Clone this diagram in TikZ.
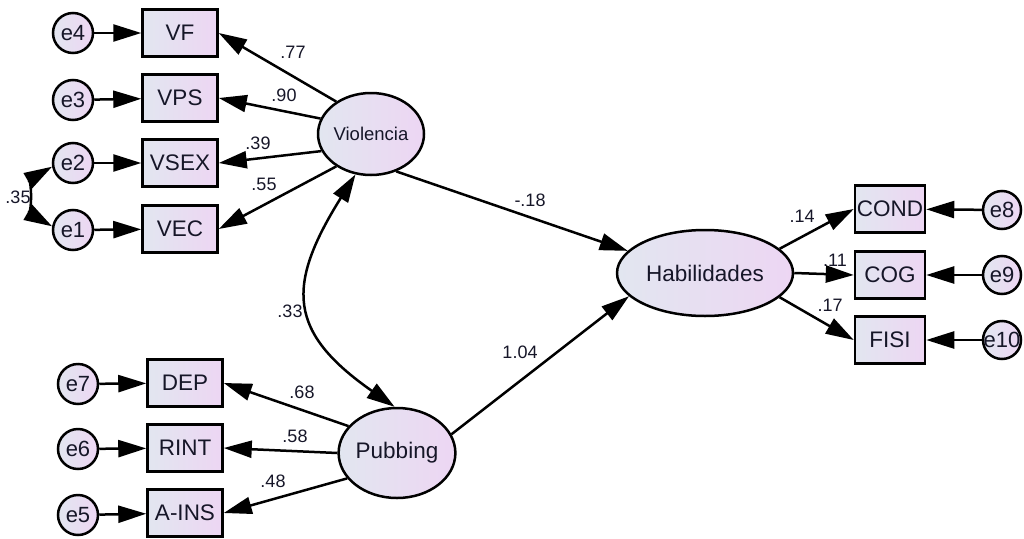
\documentclass[tikz,border=0pt]{standalone}
\usepackage{fontspec}
\setmainfont{Liberation Sans}
\usetikzlibrary{shapes.geometric,arrows.meta}

\definecolor{fondoa}{RGB}{226,230,240}
\definecolor{fondob}{RGB}{237,214,243}
\definecolor{tinta}{RGB}{22,22,40}

\begin{document}
\begin{tikzpicture}[x=1pt,y=1pt,
    obs/.style={draw,line width=2.5pt,left color=fondoa,right color=fondob,minimum width=75pt,minimum height=47pt,inner sep=0pt,font=\fontsize{22.5}{25}\selectfont,text=tinta},
    lat/.style={draw,ellipse,line width=2.5pt,left color=fondoa,right color=fondob,inner sep=0pt,font=\fontsize{22.5}{25}\selectfont,text=tinta},
    err/.style={draw,circle,line width=2.5pt,left color=fondoa,right color=fondob,minimum size=40pt,inner sep=0pt,font=\fontsize{22}{25}\selectfont,text=tinta},
    coef/.style={font=\fontsize{18}{20}\selectfont,text=tinta,inner sep=0pt},
    efecto/.style={line width=2.5pt,-{Triangle[length=28pt,width=17pt]}},
    cov/.style={line width=2.5pt,{Triangle[length=28pt,width=17pt]}-{Triangle[length=28pt,width=17pt]}}]
    \useasboundingbox (0,0) rectangle (1024,-538);

    % Violencia
    \node[err] (e4) at (73,-33) {e4};
    \node[err] (e3) at (73,-100) {e3};
    \node[err] (e2) at (73,-163) {e2};
    \node[err] (e1) at (73,-230) {e1};
    \node[obs] (vf) at (180,-33) {VF};
    \node[obs] (vps) at (180,-98) {VPS};
    \node[obs] (vsex) at (180,-163) {VSEX};
    \node[obs] (vec) at (180,-229) {VEC};
    \node[lat,minimum width=106pt,minimum height=82pt,font=\fontsize{18.5}{20}\selectfont] (viol) at (371,-134) {Violencia};

    % Pubbing
    \node[err] (e7) at (78,-384) {e7};
    \node[err] (e6) at (78,-449) {e6};
    \node[err] (e5) at (78,-515) {e5};
    \node[obs] (dep) at (185,-383) {DEP};
    \node[obs] (rint) at (185,-448) {RINT};
    \node[obs] (ains) at (185,-513) {A-INS};
    \node[lat,minimum width=110pt,minimum height=90pt] (pub) at (397,-453) {Pubbing};

    % Habilidades
    \node[lat,minimum width=176pt,minimum height=86pt] (hab) at (705,-273) {Habilidades};
    \node[obs,minimum width=70pt] (cond) at (890,-209) {\makebox[0pt]{COND}};
    \node[obs,minimum width=70pt] (cog) at (890,-275) {COG};
    \node[obs,minimum width=70pt] (fisi) at (890,-340) {FISI};
    \node[err,minimum size=38pt] (e8) at (1002,-210) {e8};
    \node[err,minimum size=38pt] (e9) at (1002,-275) {e9};
    \node[err,minimum size=38pt] (e10) at (1002,-340) {\makebox[0pt]{e10}};

    % Errores
    \draw[efecto] (e4) -- (vf);
    \draw[efecto] (e3) -- (vps);
    \draw[efecto] (e2) -- (vsex);
    \draw[efecto] (e1) -- (vec);
    \draw[efecto] (e7) -- (dep);
    \draw[efecto] (e6) -- (rint);
    \draw[efecto] (e5) -- (ains);
    \draw[efecto] (e8) -- (cond);
    \draw[efecto] (e9) -- (cog);
    \draw[efecto] (e10) -- (fisi);

    % Cargas
    \draw[efecto] (viol.137) -- (vf.east);
    \draw[efecto] (viol.163) -- (vps.east);
    \draw[efecto] (viol.199) -- (vsex.east);
    \draw[efecto] (viol.223) -- (vec.east);
    \draw[efecto] (pub.151) -- (dep.east);
    \draw[efecto] (pub.180) -- (rint.east);
    \draw[efecto] (pub.207) -- (ains.east);
    \draw[efecto] (hab.18) -- (cond.west);
    \draw[efecto] (hab.east) -- (cog.west);
    \draw[efecto] (hab.-18) -- (fisi.west);

    % Estructural
    \draw[efecto] (viol.304) -- (hab.164);
    \draw[efecto] (pub.19) -- (hab.197);
    \draw[cov] (viol.249) .. controls +(238:132) and +(145:130) .. (pub.93);
    \draw[cov] (e2.190) to[bend right=60] (e1.170);

    % Coeficientes
    \node[coef] (c77) at (293,-52) {.77};
    \node[coef] (c90) at (284,-95) {.90};
    \node[coef] (c39) at (258,-143) {.39};
    \node[coef] (c55) at (264,-184) {.55};
    \node[coef] (c35) at (18,-197) {.35};
    \node[coef] (c18) at (530,-200) {-.18};
    \node[coef] (c33) at (290,-311) {.33};
    \node[coef] (c104) at (520,-352) {1.04};
    \node[coef] (c68) at (302,-392) {.68};
    \node[coef] (c58) at (295,-436) {.58};
    \node[coef] (c48) at (273,-481) {.48};
    \node[coef] (c14) at (802,-216) {.14};
    \node[coef] (c11) at (835,-260) {.11};
    \node[coef] (c17) at (830,-305) {.17};
\end{tikzpicture}
\end{document}
